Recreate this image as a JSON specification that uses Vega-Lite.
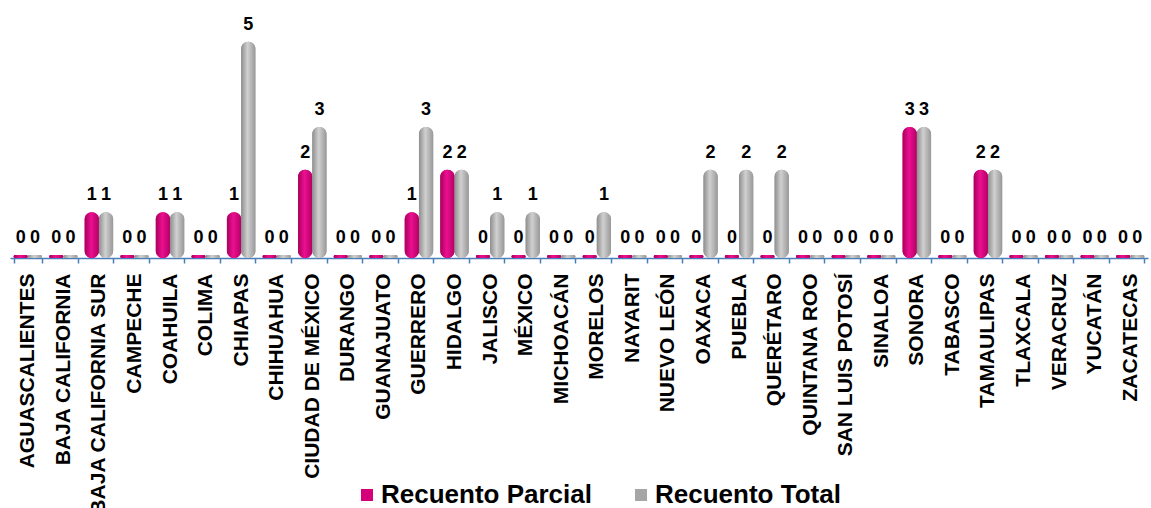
{
  "$schema": "https://vega.github.io/schema/vega-lite/v6.json",
  "width": 1138,
  "height": 256,
  "autosize": {"type": "none"},
  "padding": {"left": 10, "top": 2, "right": 3, "bottom": 250},
  "background": "white",
  "config": {"view": {"stroke": null}, "font": "Liberation Sans"},
  "data": {"values": [
    {"estado": "AGUASCALIENTES", "serie": "Recuento Parcial", "valor": 0},
    {"estado": "AGUASCALIENTES", "serie": "Recuento Total", "valor": 0},
    {"estado": "BAJA CALIFORNIA", "serie": "Recuento Parcial", "valor": 0},
    {"estado": "BAJA CALIFORNIA", "serie": "Recuento Total", "valor": 0},
    {"estado": "BAJA CALIFORNIA SUR", "serie": "Recuento Parcial", "valor": 1},
    {"estado": "BAJA CALIFORNIA SUR", "serie": "Recuento Total", "valor": 1},
    {"estado": "CAMPECHE", "serie": "Recuento Parcial", "valor": 0},
    {"estado": "CAMPECHE", "serie": "Recuento Total", "valor": 0},
    {"estado": "COAHUILA", "serie": "Recuento Parcial", "valor": 1},
    {"estado": "COAHUILA", "serie": "Recuento Total", "valor": 1},
    {"estado": "COLIMA", "serie": "Recuento Parcial", "valor": 0},
    {"estado": "COLIMA", "serie": "Recuento Total", "valor": 0},
    {"estado": "CHIAPAS", "serie": "Recuento Parcial", "valor": 1},
    {"estado": "CHIAPAS", "serie": "Recuento Total", "valor": 5},
    {"estado": "CHIHUAHUA", "serie": "Recuento Parcial", "valor": 0},
    {"estado": "CHIHUAHUA", "serie": "Recuento Total", "valor": 0},
    {"estado": "CIUDAD DE MÉXICO", "serie": "Recuento Parcial", "valor": 2},
    {"estado": "CIUDAD DE MÉXICO", "serie": "Recuento Total", "valor": 3},
    {"estado": "DURANGO", "serie": "Recuento Parcial", "valor": 0},
    {"estado": "DURANGO", "serie": "Recuento Total", "valor": 0},
    {"estado": "GUANAJUATO", "serie": "Recuento Parcial", "valor": 0},
    {"estado": "GUANAJUATO", "serie": "Recuento Total", "valor": 0},
    {"estado": "GUERRERO", "serie": "Recuento Parcial", "valor": 1},
    {"estado": "GUERRERO", "serie": "Recuento Total", "valor": 3},
    {"estado": "HIDALGO", "serie": "Recuento Parcial", "valor": 2},
    {"estado": "HIDALGO", "serie": "Recuento Total", "valor": 2},
    {"estado": "JALISCO", "serie": "Recuento Parcial", "valor": 0},
    {"estado": "JALISCO", "serie": "Recuento Total", "valor": 1},
    {"estado": "MÉXICO", "serie": "Recuento Parcial", "valor": 0},
    {"estado": "MÉXICO", "serie": "Recuento Total", "valor": 1},
    {"estado": "MICHOACÁN", "serie": "Recuento Parcial", "valor": 0},
    {"estado": "MICHOACÁN", "serie": "Recuento Total", "valor": 0},
    {"estado": "MORELOS", "serie": "Recuento Parcial", "valor": 0},
    {"estado": "MORELOS", "serie": "Recuento Total", "valor": 1},
    {"estado": "NAYARIT", "serie": "Recuento Parcial", "valor": 0},
    {"estado": "NAYARIT", "serie": "Recuento Total", "valor": 0},
    {"estado": "NUEVO LEÓN", "serie": "Recuento Parcial", "valor": 0},
    {"estado": "NUEVO LEÓN", "serie": "Recuento Total", "valor": 0},
    {"estado": "OAXACA", "serie": "Recuento Parcial", "valor": 0},
    {"estado": "OAXACA", "serie": "Recuento Total", "valor": 2},
    {"estado": "PUEBLA", "serie": "Recuento Parcial", "valor": 0},
    {"estado": "PUEBLA", "serie": "Recuento Total", "valor": 2},
    {"estado": "QUERÉTARO", "serie": "Recuento Parcial", "valor": 0},
    {"estado": "QUERÉTARO", "serie": "Recuento Total", "valor": 2},
    {"estado": "QUINTANA ROO", "serie": "Recuento Parcial", "valor": 0},
    {"estado": "QUINTANA ROO", "serie": "Recuento Total", "valor": 0},
    {"estado": "SAN LUIS POTOSÍ", "serie": "Recuento Parcial", "valor": 0},
    {"estado": "SAN LUIS POTOSÍ", "serie": "Recuento Total", "valor": 0},
    {"estado": "SINALOA", "serie": "Recuento Parcial", "valor": 0},
    {"estado": "SINALOA", "serie": "Recuento Total", "valor": 0},
    {"estado": "SONORA", "serie": "Recuento Parcial", "valor": 3},
    {"estado": "SONORA", "serie": "Recuento Total", "valor": 3},
    {"estado": "TABASCO", "serie": "Recuento Parcial", "valor": 0},
    {"estado": "TABASCO", "serie": "Recuento Total", "valor": 0},
    {"estado": "TAMAULIPAS", "serie": "Recuento Parcial", "valor": 2},
    {"estado": "TAMAULIPAS", "serie": "Recuento Total", "valor": 2},
    {"estado": "TLAXCALA", "serie": "Recuento Parcial", "valor": 0},
    {"estado": "TLAXCALA", "serie": "Recuento Total", "valor": 0},
    {"estado": "VERACRUZ", "serie": "Recuento Parcial", "valor": 0},
    {"estado": "VERACRUZ", "serie": "Recuento Total", "valor": 0},
    {"estado": "YUCATÁN", "serie": "Recuento Parcial", "valor": 0},
    {"estado": "YUCATÁN", "serie": "Recuento Total", "valor": 0},
    {"estado": "ZACATECAS", "serie": "Recuento Parcial", "valor": 0},
    {"estado": "ZACATECAS", "serie": "Recuento Total", "valor": 0}
  ]},
  "encoding": {
    "x": {
      "field": "estado", "type": "nominal", "sort": null,
      "scale": {"paddingInner": 0.2, "paddingOuter": 0.1},
      "axis": {
        "title": null, "labelAngle": -90, "labelFont": "Liberation Sans",
        "labelFontSize": 21, "labelFontWeight": "bold", "labelColor": "#000000",
        "labelPadding": 10, "labelLimit": 400, "labelOverlap": false,
        "domainColor": "#4a7ebb", "domainWidth": 1.5,
        "tickColor": "#4a7ebb", "tickWidth": 1.5, "tickSize": 5, "tickBand": "extent"
      }
    },
    "xOffset": {"field": "serie", "type": "nominal", "scale": {"paddingInner": 0}},
    "y": {"field": "valor", "type": "quantitative", "stack": null,
      "scale": {"domain": [0, 6], "nice": false}, "axis": null}
  },
  "layer": [
    {
      "mark": {"type": "bar", "cornerRadiusEnd": 7, "yOffset": -3},
      "encoding": {
        "y2": {"datum": 0},
        "color": {
          "field": "serie", "type": "nominal",
          "scale": {"domain": ["Recuento Parcial", "Recuento Total"], "range": ["#d4007a", "#a6a6a6"]},
          "legend": {
            "title": null, "orient": "none", "direction": "horizontal",
            "legendX": 344, "legendY": 480, "padding": 0,
            "symbolType": "square", "symbolSize": 144, "symbolStrokeWidth": 0,
            "labelFont": "Liberation Sans", "labelFontSize": 26, "labelFontWeight": "bold",
            "labelColor": "#000000", "labelOffset": 1, "columnPadding": 36, "labelLimit": 400
          }
        }
      }
    },
    {
      "mark": {"type": "bar", "cornerRadiusEnd": 7, "yOffset": -3},
      "encoding": {
        "y2": {"datum": 0},
        "color": {
          "condition": {
            "test": "datum.serie === 'Recuento Parcial'",
            "value": {"gradient": "linear", "x1": 0, "y1": 0, "x2": 1, "y2": 0,
              "stops": [{"offset": 0, "color": "#a8005c"}, {"offset": 0.45, "color": "#ec1090"}, {"offset": 1, "color": "#b40066"}]}
          },
          "value": {"gradient": "linear", "x1": 0, "y1": 0, "x2": 1, "y2": 0,
            "stops": [{"offset": 0, "color": "#8e8e8e"}, {"offset": 0.45, "color": "#d0d0d0"}, {"offset": 1, "color": "#989898"}]}
        }
      }
    },
    {
      "mark": {"type": "text", "baseline": "alphabetic", "dy": -15, "font": "Liberation Sans",
        "fontSize": 18, "fontWeight": "bold", "color": "#000000"},
      "encoding": {"text": {"field": "valor", "type": "quantitative"}}
    }
  ]
}
